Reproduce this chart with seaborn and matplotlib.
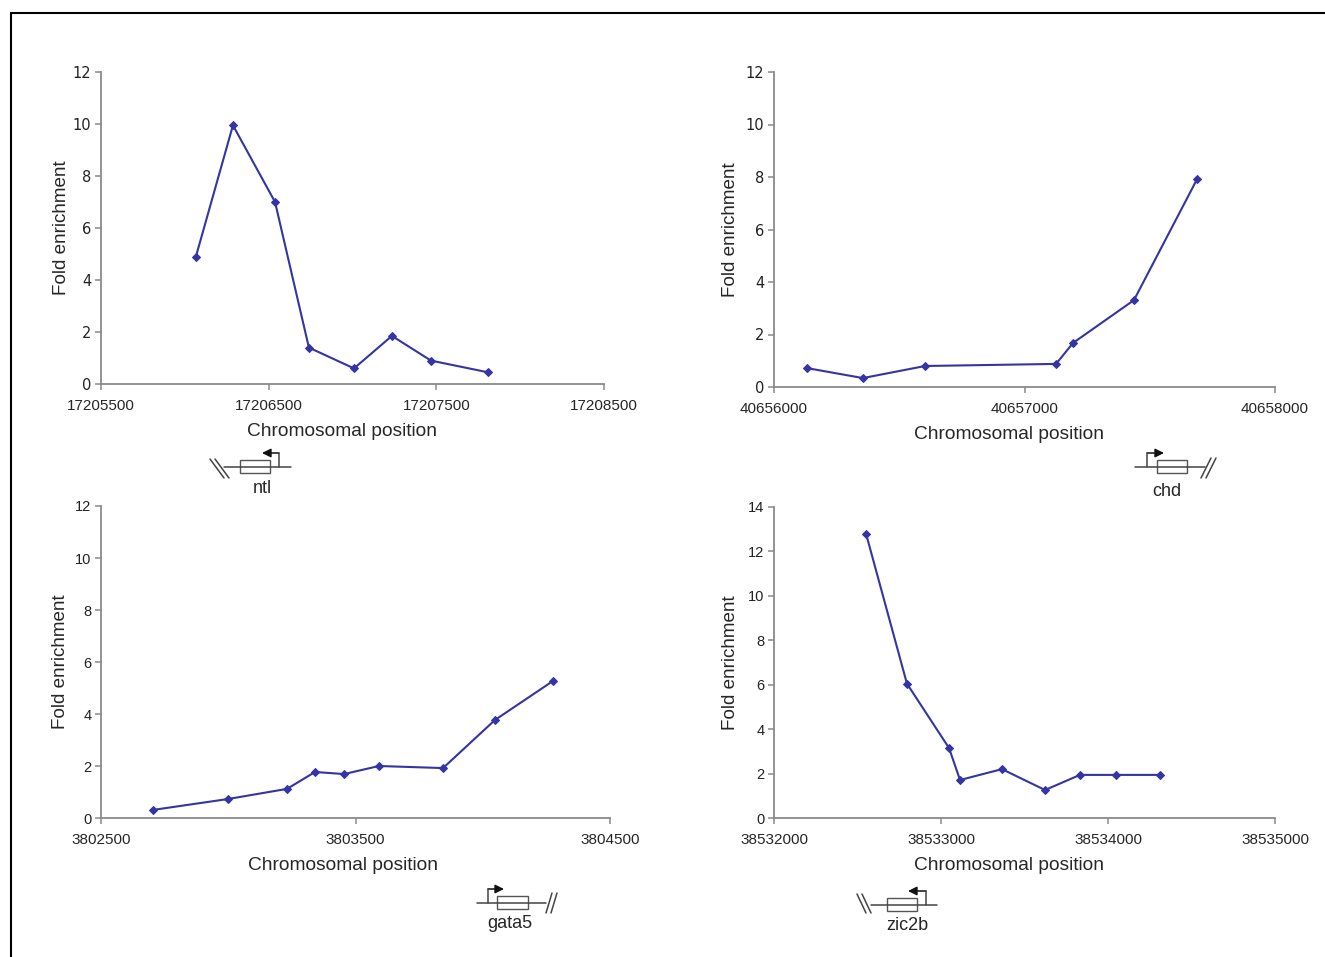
import numpy as np
import pandas as pd
import seaborn as sns
import matplotlib.pyplot as plt
from matplotlib.lines import Line2D
from matplotlib.patches import Rectangle, FancyArrowPatch

# ChIP enrichment along four loci
ntl_pos = [17206066, 17206287, 17206538, 17206740, 17207009, 17207235, 17207468, 17207808]
ntl_fold = [4.9, 9.95, 7.0, 1.4, 0.6, 1.85, 0.9, 0.45]

chd_pos = [40656132, 40656355, 40656603, 40657126, 40657194, 40657437, 40657689]
chd_fold = [0.72, 0.34, 0.8, 0.88, 1.68, 3.31, 7.92]

gata5_pos = [3802704, 3802999, 3803231, 3803341, 3803455, 3803592, 3803844, 3804048, 3804276]
gata5_fold = [0.31, 0.73, 1.12, 1.77, 1.69, 2.0, 1.92, 3.77, 5.27]

zic2b_pos = [38532551, 38532796, 38533048, 38533114, 38533365, 38533623, 38533832, 38534048, 38534311]
zic2b_fold = [12.8, 6.05, 3.15, 1.71, 2.2, 1.26, 1.94, 1.94, 1.94]

ntl_xticks = [17205500, 17206500, 17207500, 17208500]
chd_xticks = [40656000, 40657000, 40658000]
gata5_xticks = [3802500, 3803500, 3804500]
zic2b_xticks = [38532000, 38533000, 38534000, 38535000]

W, H = 1325, 957
LINE = "#3434A4"
SPINE = "#8a8a8a"

sns.set_theme(style="ticks")
plt.rcParams['font.family'] = ['Liberation Sans', 'DejaVu Sans']

fig = plt.figure(figsize=(W / 100, H / 100), dpi=100)


def make_ax(l, t, r, b):
    return fig.add_axes([l / W, 1 - b / H, (r - l) / W, (b - t) / H])


def draw_panel(ax, pos, fold, xticks, ymax, yfont, xlab_x, ylab_x):
    df = pd.DataFrame({'pos': pos, 'fold': fold})
    sns.lineplot(data=df, x='pos', y='fold', ax=ax, color=LINE, lw=1.5,
                 marker='D', markersize=4.5, markeredgecolor=LINE)
    ax.set_xlim(xticks[0], xticks[-1])
    ax.set_ylim(0, ymax)
    ax.set_xticks(xticks)
    ax.set_xticklabels([str(v) for v in xticks], fontsize=11)
    ax.set_yticks(np.arange(0, ymax + 1, 2))
    ax.set_yticklabels([str(v) for v in range(0, ymax + 1, 2)],
                       fontsize=10.5, family=yfont, color='#222222')
    sns.despine(ax=ax)
    for s in ['left', 'bottom']:
        ax.spines[s].set_color(SPINE)
        ax.spines[s].set_linewidth(1.3)
    ax.tick_params(axis='both', direction='out', length=4, width=1.1,
                   color=SPINE, pad=3)
    ax.tick_params(axis='x', pad=7)
    ax.set_xlabel('Chromosomal position', fontsize=13.8)
    ax.set_ylabel('Fold enrichment', fontsize=13.6)
    ax.xaxis.set_label_coords(xlab_x, -0.125)
    ax.yaxis.set_label_coords(ylab_x, 0.5)


def px(x, y):
    return x / W, 1 - y / H


def gene(line_x0, line_x1, ly, box_x0, box_x1, arrow_x, arrow_tip, slash_x, label, label_x, label_y):
    kw = dict(transform=fig.transFigure, color='#444444', lw=1.1)
    fig.add_artist(Line2D(*zip(px(line_x0, ly), px(line_x1, ly)), **kw))
    bx, by = px(box_x0, ly + 6)
    fig.add_artist(Rectangle((bx, by), (box_x1 - box_x0) / W, 13 / H,
                             transform=fig.transFigure, facecolor='white',
                             edgecolor='#555555', lw=1.0))
    top = ly - 14
    fig.add_artist(Line2D(*zip(px(arrow_x, ly), px(arrow_x, top)), **kw))
    fig.add_artist(FancyArrowPatch(px(arrow_x, top), px(arrow_tip, top),
                                   transform=fig.transFigure, arrowstyle='-|>',
                                   mutation_scale=13, color='#111111', lw=1.1,
                                   shrinkA=0, shrinkB=0))
    for dx in (0, 5):
        fig.add_artist(Line2D(*zip(px(slash_x[0] + dx, slash_x[2]),
                                   px(slash_x[1] + dx, slash_x[3])), **kw))
    fig.text(*px(label_x, label_y), label, fontsize=13, ha='center', va='center')


ax1 = make_ax(101, 72, 604, 384)
draw_panel(ax1, ntl_pos, ntl_fold, ntl_xticks, 12, 'DejaVu Sans', 0.48, -0.062)
ax2 = make_ax(774, 72, 1275, 387)
draw_panel(ax2, chd_pos, chd_fold, chd_xticks, 12, 'DejaVu Sans', 0.47, -0.07)
ax3 = make_ax(101, 506, 610, 818)
draw_panel(ax3, gata5_pos, gata5_fold, gata5_xticks, 12, 'Liberation Sans', 0.475, -0.062)
ax4 = make_ax(774, 507, 1275, 818)
draw_panel(ax4, zic2b_pos, zic2b_fold, zic2b_xticks, 14, 'Liberation Sans', 0.47, -0.07)

# gene diagrams
gene(224, 291, 467, 240, 270, 279, 262, (210, 224, 459, 478), 'ntl', 262, 488)
gene(1135, 1205, 467, 1157, 1187, 1147, 1164, (1201, 1211, 478, 458), 'chd', 1167, 491)
gene(477, 546, 903, 497, 528, 488, 504, (546, 552, 913, 893), 'gata5', 510, 924)
gene(871, 937, 905, 887, 917, 926, 908, (857, 866, 894, 913), 'zic2b', 907, 926)

# frame around the figure
fig.add_artist(Line2D([11 / W, 11 / W], [0, 1 - 13 / H], color='black', lw=1.5,
                      transform=fig.transFigure))
fig.add_artist(Line2D([11 / W, 1], [1 - 13 / H, 1 - 13 / H], color='black', lw=1.5,
                      transform=fig.transFigure))

fig.savefig('out.png', dpi=100, facecolor='white')
